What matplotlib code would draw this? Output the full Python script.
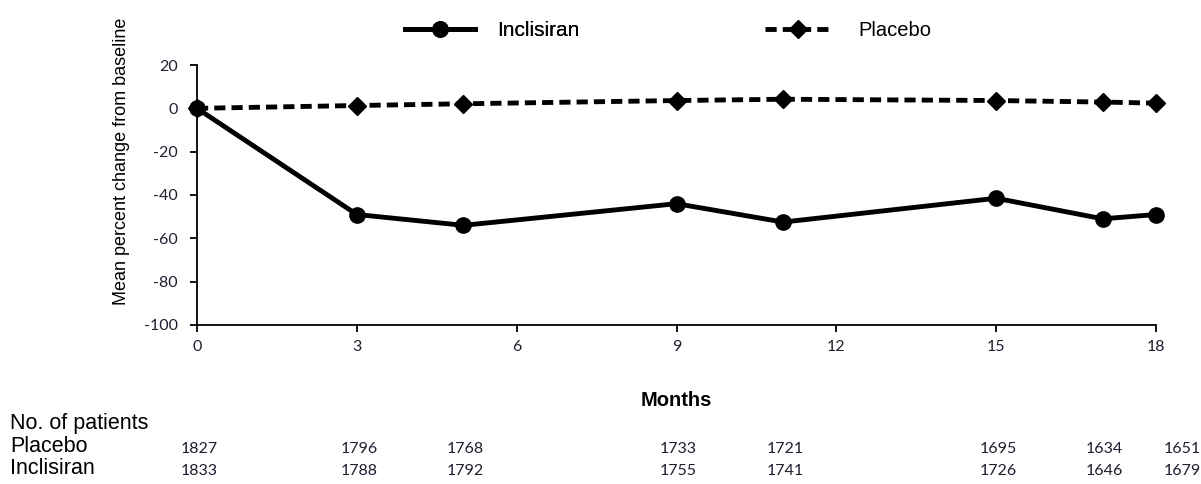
import matplotlib
matplotlib.use("Agg")
import matplotlib.pyplot as plt
from matplotlib.lines import Line2D

# Visit months and mean percent change in LDL-C from baseline
months = [0, 3, 5, 9, 11, 15, 17, 18]
inclisiran = [0, -49, -54, -44, -52.5, -41.5, -51, -49]
placebo = [0, 1.3, 2.1, 3.6, 4.2, 3.6, 2.9, 2.4]

# Numbers of patients at each visit
n_placebo = [1827, 1796, 1768, 1733, 1721, 1695, 1634, 1651]
n_inclisiran = [1833, 1788, 1792, 1755, 1741, 1726, 1646, 1679]

x_ticks = [0, 3, 6, 9, 12, 15, 18]
y_ticks = [-100, -80, -60, -40, -20, 0, 20]

W, H = 1201, 484
plt.rcParams['font.family'] = ['Liberation Sans', 'DejaVu Sans']
plt.rcParams['axes.unicode_minus'] = False
fig = plt.figure(figsize=(W / 100, H / 100), dpi=100)

def fx(px):
    return px / W

def fy(py):
    return 1 - py / H

LW = 3.5
DASH = (2.3, 1.25)
num_font = ['Lato', 'DejaVu Sans']
num_color = '#1e1e30'
num_size = 11.5

ax = fig.add_axes([fx(197), fy(325), fx(1156) - fx(197), fy(65) - fy(325)])

ax.plot(months, inclisiran, color='black', lw=LW, marker='o', ms=11,
        solid_joinstyle='round', clip_on=False, zorder=3)
ax.plot(months, placebo, color='black', lw=LW, marker='D', ms=9,
        dashes=DASH, clip_on=False, zorder=3)

ax.set_xlim(0, 18)
ax.set_ylim(-100, 20)
ax.set_xticks(x_ticks)
ax.set_yticks(y_ticks)
for s in ('top', 'right'):
    ax.spines[s].set_visible(False)
for s in ('left', 'bottom'):
    ax.spines[s].set_linewidth(1.3)
ax.tick_params(direction='out', length=5, width=1.3, colors='black',
               labelcolor=num_color, labelsize=num_size)
ax.tick_params(axis='x', pad=6)
ax.tick_params(axis='y', pad=9)
for lab in ax.get_xticklabels() + ax.get_yticklabels():
    lab.set_fontfamily(num_font)

fig.text(fx(121), fy(161), 'Mean percent change from baseline', rotation=90,
         ha='center', va='center', fontsize=13)

# Legend entries placed side by side at the top
h_inc = Line2D([], [], color='black', lw=LW, marker='o', ms=11)
h_pla = Line2D([], [], color='black', lw=LW, marker='D', ms=9, dashes=DASH)
leg1 = fig.legend([h_inc], ['Inclisiran'], loc='center left',
                  bbox_to_anchor=(fx(405), fy(31)), frameon=False,
                  borderpad=0, borderaxespad=0, handlelength=3.36,
                  handletextpad=1.06, fontsize=15, numpoints=1)
fig.add_artist(leg1)
fig.legend([h_pla], ['Placebo'], loc='center left',
           bbox_to_anchor=(fx(765), fy(31)), frameon=False,
           borderpad=0, borderaxespad=0, handlelength=3.27,
           handletextpad=1.35, fontsize=14.5, numpoints=1)

# X-axis title and at-risk table
fig.text(fx(676), fy(401), 'Months', ha='center', va='center',
         fontsize=14.5, fontweight='bold')
fig.text(fx(10), fy(424), 'No. of patients', ha='left', va='center', fontsize=15.5)
fig.text(fx(10), fy(447), 'Placebo', ha='left', va='center', fontsize=15.5)
fig.text(fx(10), fy(469), 'Inclisiran', ha='left', va='center', fontsize=15.5)

x0, x1 = 197, 1156
for i, m in enumerate(months):
    px = x0 + (x1 - x0) * m / 18 + 2
    if i == len(months) - 1:
        px += 24  # last column nudged right of the axis end
    fig.text(fx(px), fy(449), str(n_placebo[i]), ha='center', va='center',
             fontsize=num_size, color=num_color, family=num_font)
    fig.text(fx(px), fy(471), str(n_inclisiran[i]), ha='center', va='center',
             fontsize=num_size, color=num_color, family=num_font)

fig.savefig('out.png', dpi=100)
